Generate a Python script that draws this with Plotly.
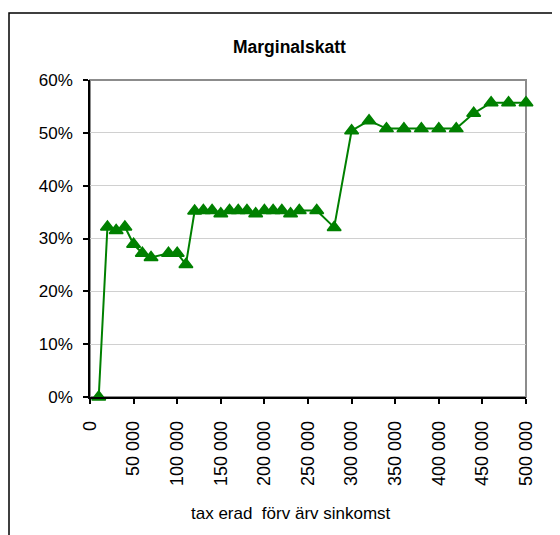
import plotly.graph_objects as go

income = [10000, 20000, 30000, 40000, 50000, 60000, 70000, 90000, 100000, 110000,
          120000, 130000, 140000, 150000, 160000, 170000, 180000, 190000, 200000,
          210000, 220000, 230000, 240000, 260000, 280000, 300000, 320000, 340000,
          360000, 380000, 400000, 420000, 440000, 460000, 480000, 500000]
marginal_tax = [0.0, 0.322, 0.315, 0.322, 0.289, 0.272, 0.264, 0.272, 0.272, 0.251,
                0.352, 0.353, 0.353, 0.347, 0.353, 0.353, 0.353, 0.347, 0.353,
                0.353, 0.353, 0.347, 0.353, 0.353, 0.321, 0.504, 0.523, 0.508,
                0.508, 0.508, 0.508, 0.508, 0.537, 0.557, 0.557, 0.557]

x_tickvals = [0, 50000, 100000, 150000, 200000, 250000, 300000, 350000, 400000, 450000, 500000]
x_ticktext = ["0", "50 000", "100 000", "150 000", "200 000", "250 000", "300 000",
              "350 000", "400 000", "450 000", "500 000"]
y_tickvals = [0, 0.1, 0.2, 0.3, 0.4, 0.5, 0.6]
y_ticktext = ["0%", "10%", "20%", "30%", "40%", "50%", "60%"]

title_text = "Marginalskatt"
x_title = "tax erad  förv ärv sinkomst"

FONT = "Liberation Sans, Arial, sans-serif"
GREEN = "#008000"

# page body has an 8px margin; work in window pixels and convert
OFF = 8
W, H = 560 - OFF, 535 - OFF
PL, PR, PT, PB = 90, 526, 80, 397   # plot area in window pixels
L, R, T, B = PL - OFF, W - (PR - OFF), PT - OFF, H - (PB - OFF)
pw, ph = PR - PL, PB - PT


def px(xw):
    return (xw - PL) / pw


def py(yw):
    return (PB - yw) / ph


fig = go.Figure()
fig.add_trace(go.Scatter(
    x=income, y=marginal_tax, mode="lines+markers",
    line=dict(color=GREEN, width=2),
    marker=dict(symbol="triangle-up", size=12, color=GREEN, line=dict(color=GREEN, width=1.5)),
    cliponaxis=False, showlegend=False, hoverinfo="skip",
))

fig.update_layout(
    width=W, height=H,
    margin=dict(l=L, r=R, t=T, b=B, pad=0),
    paper_bgcolor="white", plot_bgcolor="white",
    font=dict(family=FONT, size=17, color="black"),
    xaxis=dict(range=[0, 500000], tickmode="array", tickvals=x_tickvals, ticktext=x_ticktext,
               tickangle=-90, ticks="outside", ticklen=5, tickwidth=1.5, tickcolor="black",
               showline=True, linecolor="black", linewidth=1.5, showgrid=False, zeroline=False,
               ticklabelstandoff=10, tickfont=dict(size=18)),
    yaxis=dict(range=[0, 0.6], tickmode="array", tickvals=y_tickvals, ticktext=y_ticktext,
               ticks="outside", ticklen=5, tickwidth=1.5, tickcolor="black",
               showline=True, linecolor="black", linewidth=1.5, showgrid=True,
               gridcolor="#d0d0d0", gridwidth=1.2, zeroline=False,
               ticklabelstandoff=7, tickfont=dict(size=17)),
    shapes=[
        dict(type="rect", xref="paper", yref="paper", x0=0, x1=1, y0=0, y1=1,
             line=dict(color="#8c8c8c", width=2), layer="between"),
        dict(type="rect", xref="paper", yref="paper", x0=px(9), x1=px(620), y0=py(620), y1=py(13),
             line=dict(color="black", width=1.5), layer="below"),
    ],
    annotations=[
        dict(text="<b>" + title_text + "</b>", xref="paper", yref="paper", x=px(289), y=py(47),
             xanchor="center", yanchor="middle", showarrow=False, font=dict(size=17.5)),
        dict(text=x_title, xref="paper", yref="paper", x=px(291), y=py(513),
             xanchor="center", yanchor="middle", showarrow=False, font=dict(size=17)),
    ],
)

fig.write_html("out.html")
